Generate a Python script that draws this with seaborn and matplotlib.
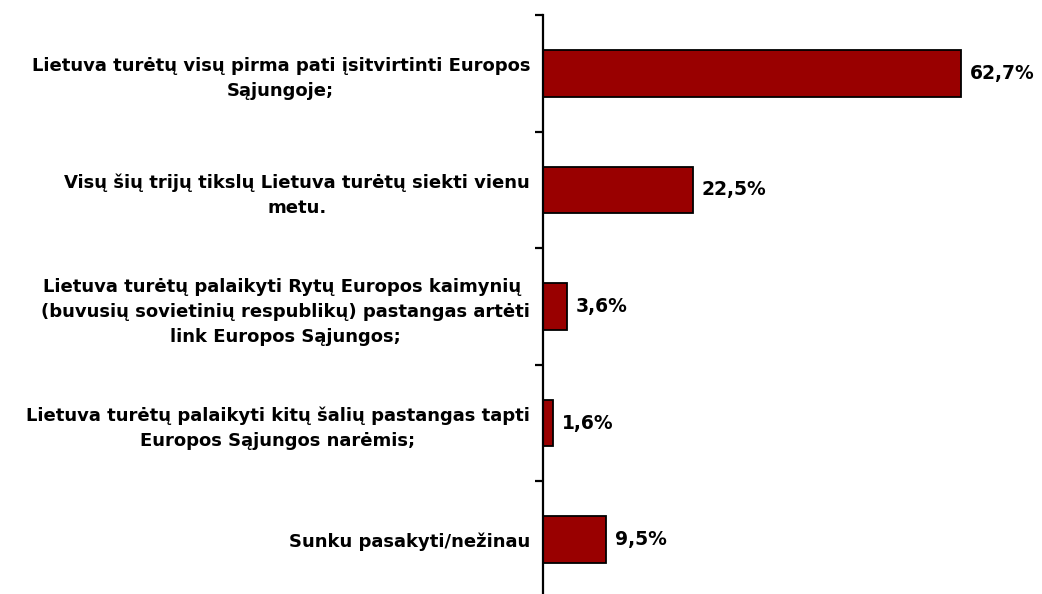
import matplotlib
matplotlib.use("Agg")
import matplotlib.pyplot as plt
import seaborn as sns
import pandas as pd
from matplotlib.ticker import FixedLocator

categories = [
    "Lietuva turėtų visų pirma pati įsitvirtinti Europos\nSąjungoje;",
    "Visų šių trijų tikslų Lietuva turėtų siekti vienu\nmetu.",
    "Lietuva turėtų palaikyti Rytų Europos kaimynių \n(buvusių sovietinių respublikų) pastangas artėti\nlink Europos Sąjungos;",
    "Lietuva turėtų palaikyti kitų šalių pastangas tapti\nEuropos Sąjungos narėmis;",
    "Sunku pasakyti/nežinau",
]
values = [62.7, 22.5, 3.6, 1.6, 9.5]
value_labels = ["62,7%", "22,5%", "3,6%", "1,6%", "9,5%"]

sns.set_theme(style="white")
plt.rcParams["font.family"] = ["DejaVu Sans"]

df = pd.DataFrame({"cat": categories, "val": values})

fig = plt.figure(figsize=(10.42, 5.94), dpi=100)
ax = fig.add_axes([542.5 / 1042, (594 - 598) / 594, (1042 - 542.5) / 1042, 583 / 594])

sns.barplot(data=df, x="val", y="cat", orient="h", color="#990000",
            edgecolor="black", linewidth=1.3, width=0.4, saturation=1, ax=ax)

ax.set_xlim(0, 74.83)
ax.set_ylim(4.5, -0.5)
ax.set_xlabel("")
ax.set_ylabel("")
ax.set_xticks([])

for sp in ["top", "right", "bottom"]:
    ax.spines[sp].set_visible(False)
ax.spines["left"].set_linewidth(1.6)
ax.spines["left"].set_color("black")

ax.yaxis.set_minor_locator(FixedLocator([-0.5, 0.5, 1.5, 2.5, 3.5]))
ax.tick_params(axis="y", which="minor", length=6, width=1.6, color="black", left=True, direction="out")
ax.tick_params(axis="y", which="major", length=0, pad=9)
for lbl in ax.get_yticklabels():
    lbl.set_fontsize(13)
    lbl.set_fontweight("bold")
    lbl.set_multialignment("center")
    lbl.set_linespacing(1.5)
    lbl.set_color("black")

for i, (v, t) in enumerate(zip(values, value_labels)):
    ax.annotate(t, xy=(v, i), xytext=(6.5, 0), textcoords="offset points",
                ha="left", va="center", fontsize=13.5, fontweight="bold", color="black")

fig.savefig("out.png", dpi=100)
